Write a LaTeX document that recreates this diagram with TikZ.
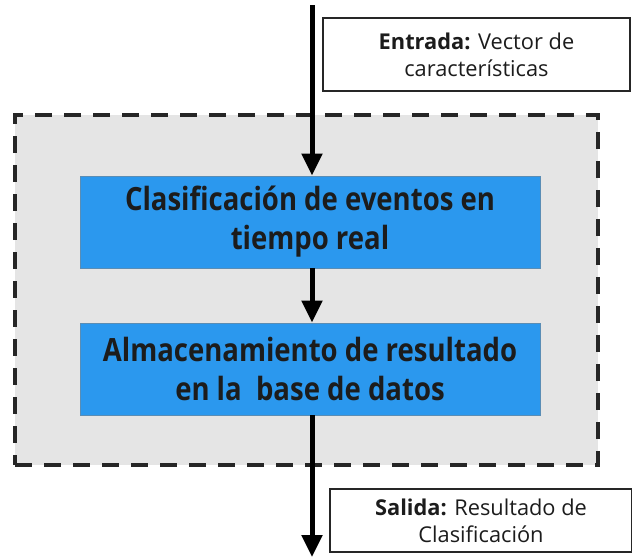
\documentclass[tikz,border=0pt]{standalone}
\usepackage{fontspec}
\setmainfont{Open Sans}
\newfontfamily\condbold[FakeStretch=0.86]{Open Sans}
\usetikzlibrary{arrows.meta}
\definecolor{procblue}{HTML}{2B98EE}
\definecolor{procborder}{HTML}{5A8DB5}
\definecolor{groupgray}{HTML}{E5E5E5}
\definecolor{txtdark}{HTML}{1C1C1C}
\tikzset{
  procbox/.style={draw=procborder, line width=0.8pt, fill=procblue, minimum width=460pt, minimum height=92pt, inner sep=0pt, align=center, font=\condbold\bfseries\fontsize{32}{39}\selectfont, text=txtdark},
  notebox/.style={draw=black!85, line width=1.3pt, fill=white, inner sep=0pt, align=center, font=\fontsize{21.8}{27}\selectfont, text=txtdark},
  flow/.style={line width=5pt, -{Triangle[width=20pt,length=22pt]}}
}
\begin{document}
\begin{tikzpicture}[x=1pt,y=-1pt]
\useasboundingbox (0,0) rectangle (632,557);
\node[draw=black!85, dash pattern=on 17pt off 12pt, line width=4pt, fill=groupgray, minimum width=583pt, minimum height=350pt, inner sep=0pt] (grp) at (306.5,290) {};
\node[notebox, minimum width=307pt, minimum height=73pt] (inp) at (476.5,54.5) {\textbf{Entrada:} Vector de\\características};
\node[procbox] (p1) at (310,222) {Clasificación de eventos en\\tiempo real};
\node[procbox] (p2) at (310,369) {Almacenamiento de resultado\\en la~ base de datos};
\node[notebox, minimum width=302pt, minimum height=63pt] (out) at (481,520.5) {\textbf{Salida:} Resultado de\\Clasificación};
\coordinate (top) at (312,5);
\coordinate (bot) at (312,557);
\draw[flow] (top) -- (top |- p1.north);
\draw[flow] (p1.south -| top) -- (p2.north -| top);
\draw[flow] (p2.south -| top) -- (bot);
\end{tikzpicture}
\end{document}
